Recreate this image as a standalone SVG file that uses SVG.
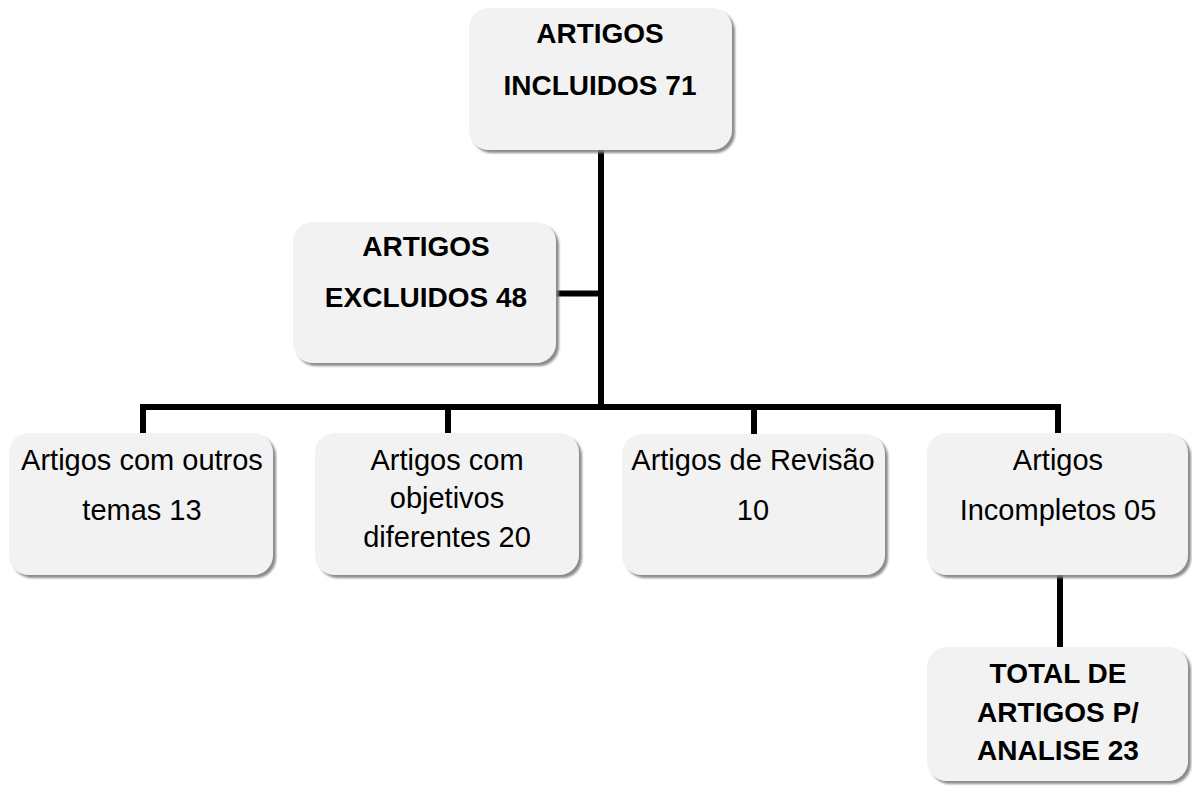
<svg xmlns="http://www.w3.org/2000/svg" width="1192" height="790" viewBox="0 0 1192 790">
<style>
.box{fill:#f2f2f2;filter:url(#sh)}
.t{font-family:"Liberation Sans",Arial,sans-serif;font-size:29px;fill:#000;text-anchor:middle}
.b{font-weight:bold;font-size:28px}
.c{stroke:#000;fill:none;stroke-width:6}
</style>
<defs>
<filter id="sh" x="-10%" y="-10%" width="125%" height="125%">
<feDropShadow dx="3" dy="3" stdDeviation="1.2" flood-color="#7f7f7f" flood-opacity="0.9"/>
</filter>
</defs>
<rect width="1192" height="790" fill="#fff"/>
<g id="connectors">
<line class="c" x1="601" y1="150" x2="601" y2="407"/>
<line class="c" x1="556" y1="293.5" x2="601" y2="293.5" stroke-width="5"/>
<polyline class="c" points="143,433 143,407 1058,407 1058,433"/>
<line class="c" x1="448" y1="407" x2="448" y2="433"/>
<line class="c" x1="754" y1="407" x2="754" y2="434"/>
<line class="c" x1="1060" y1="575" x2="1060" y2="647"/>
</g>
<g id="incluidos">
<rect class="box" x="469" y="8" width="263" height="142" rx="20"/>
<text class="t b" x="600" y="43">ARTIGOS</text>
<text class="t b" x="600" y="95">INCLUIDOS 71</text>
</g>
<g id="excluidos">
<rect class="box" x="293" y="222" width="263" height="141" rx="20"/>
<text class="t b" x="426" y="256">ARTIGOS</text>
<text class="t b" x="426" y="307">EXCLUIDOS 48</text>
</g>
<g id="outros-temas">
<rect class="box" x="9" y="433" width="264" height="142" rx="20"/>
<text class="t" x="142" y="470">Artigos com outros</text>
<text class="t" x="142" y="520">temas 13</text>
</g>
<g id="objetivos">
<rect class="box" x="315" y="433" width="264" height="142" rx="20"/>
<text class="t" x="447" y="470">Artigos com</text>
<text class="t" x="447" y="508">objetivos</text>
<text class="t" x="447" y="547">diferentes 20</text>
</g>
<g id="revisao">
<rect class="box" x="622" y="434" width="263" height="141" rx="20"/>
<text class="t" x="753" y="470">Artigos de Revisão</text>
<text class="t" x="753" y="520">10</text>
</g>
<g id="incompletos">
<rect class="box" x="927" y="433" width="261" height="142" rx="20"/>
<text class="t" x="1058" y="470">Artigos</text>
<text class="t" x="1058" y="520">Incompletos 05</text>
</g>
<g id="total">
<rect class="box" x="927" y="647" width="261" height="134" rx="20"/>
<text class="t b" x="1058" y="683">TOTAL DE</text>
<text class="t b" x="1058" y="722">ARTIGOS P/</text>
<text class="t b" x="1058" y="760">ANALISE 23</text>
</g>
</svg>
